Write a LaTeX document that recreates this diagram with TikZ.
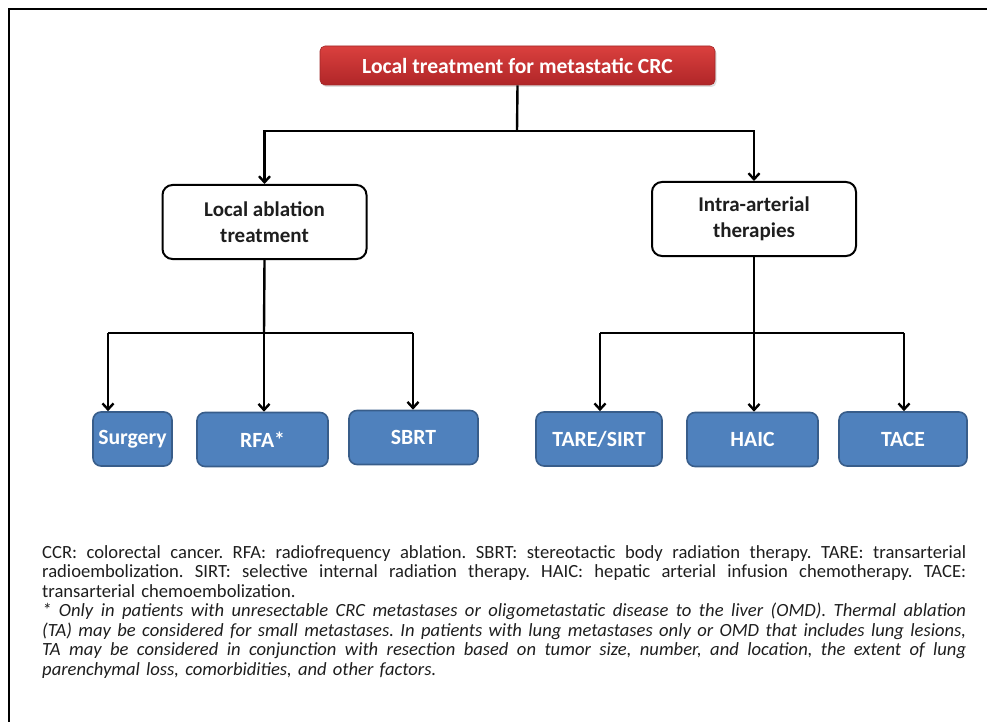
\documentclass[tikz,border=0pt]{standalone}
\usepackage{fontspec}
\setmainfont{Carlito}
\usetikzlibrary{arrows.meta,shadows}

\definecolor{boxblue}{RGB}{79,129,189}
\definecolor{boxblueedge}{RGB}{56,93,138}
\definecolor{redtop}{RGB}{218,64,62}
\definecolor{redbot}{RGB}{176,38,40}
\definecolor{rededge}{RGB}{160,40,40}
\definecolor{txt}{RGB}{30,30,30}

% one justified line of the footnote, spread to the full width
\newcommand\noteline[1]{\leavevmode\hbox to 924pt{\spaceskip=0.226em plus 1fil minus 0.08em\relax #1}}

\tikzset{
  headbox/.style={rounded corners=5pt, top color=redtop, bottom color=redbot,
    draw=rededge, line width=0.6pt, text=white, font=\bfseries\fontsize{21.6}{24}\selectfont,
    minimum width=395pt, minimum height=39pt, inner sep=0pt,
    drop shadow={opacity=0.25, shadow xshift=1.5pt, shadow yshift=-2pt}},
  groupbox/.style={rounded corners=10pt, draw=black, line width=2pt, fill=white,
    text=txt, font=\bfseries\fontsize{21}{26}\selectfont, align=center,
    minimum width=204pt, minimum height=74pt, inner sep=0pt},
  leafbox/.style={rounded corners=8pt, fill=boxblue, draw=boxblueedge, line width=1.6pt,
    text=white, font=\bfseries\fontsize{21.7}{24}\selectfont,
    minimum height=54pt, inner sep=0pt},
  link/.style={line width=2.4pt, draw=black},
  arrow/.style={link, -{Straight Barb[length=6pt,width=11pt,line width=2.4pt]}},
}

\begin{document}
\begin{tikzpicture}[x=1pt, y=-1pt]
  \useasboundingbox (0,0) rectangle (987,722);

  % outer frame (only its top and left edges fall inside the page)
  \draw[line width=2pt] (9,730) -- (9,9.5) -- (995,9.5);

  % nodes
  \node[headbox] (head) at (517.5,65.5) {Local treatment for metastatic CRC};

  \node[groupbox] (lat) at (264.5,222) {\raisebox{-2pt}{Local ablation}\\\raisebox{-2pt}{treatment}};
  \node[groupbox] (iat) at (754,219) {\raisebox{-1pt}{Intra-arterial}\\\raisebox{-1pt}{therapies}};

  \node[leafbox, minimum width=79pt]  (surg) at (132.5,439) {Surgery};
  \node[leafbox, minimum width=131pt] (rfa)  at (262.5,439.5) {RFA*};
  \node[leafbox, minimum width=129pt] (sbrt) at (413.5,437.5) {SBRT};
  \node[leafbox, minimum width=126pt] (tare) at (599,439) {TARE/SIRT};
  \node[leafbox, minimum width=131pt] (haic) at (752.5,439.5) {HAIC};
  \node[leafbox, minimum width=128pt] (tace) at (903,439) {TACE};

  % junction points of the tree
  \coordinate (j0) at (517,131);
  \coordinate (jl) at (264,333);
  \coordinate (jr) at (754,333);
  \coordinate (sl) at (108,333);
  \coordinate (sr) at (413,333);
  \coordinate (tl) at (600,333);
  \coordinate (tr) at (904,333);

  % first level
  \draw[link] (head.south) -- (j0);
  \draw[arrow] (j0) -| (lat.north);
  \draw[arrow] (j0) -| (iat.north);

  % local ablation branch
  \draw[link] (lat.south) -- (jl);
  \draw[link] (sl) -- (sr);
  \draw[arrow] (sl) -- (sl |- surg.north);
  \draw[arrow] (jl) -- (jl |- rfa.north);
  \draw[arrow] (sr) -- (sr |- sbrt.north);

  % intra-arterial branch
  \draw[link] (iat.south) -- (jr);
  \draw[link] (tl) -- (tr);
  \draw[arrow] (tl) -- (tl |- tare.north);
  \draw[arrow] (jr) -- (jr |- haic.north);
  \draw[arrow] (tr) -- (tr |- tace.north);

  % footnote
  \node[anchor=north west, text width=924pt, align=left, inner sep=0pt,
        text=txt, font=\frenchspacing\fontsize{18.6}{19.5}\selectfont] (notes) at (42,545) {%
    \noteline{CCR: colorectal cancer. RFA: radiofrequency ablation. SBRT: stereotactic body radiation therapy. TARE: transarterial}\\
    \noteline{radioembolization. SIRT: selective internal radiation therapy. HAIC: hepatic arterial infusion chemotherapy. TACE:}\\
    transarterial chemoembolization.\\
    \itshape
    \noteline{* Only in patients with unresectable CRC metastases or oligometastatic disease to the liver (OMD). Thermal ablation}\\
    \noteline{(TA) may be considered for small metastases. In patients with lung metastases only or OMD that includes lung lesions,}\\
    \noteline{TA may be considered in conjunction with resection based on tumor size, number, and location, the extent of lung}\\
    parenchymal loss, comorbidities, and other factors.};
\end{tikzpicture}
\end{document}
